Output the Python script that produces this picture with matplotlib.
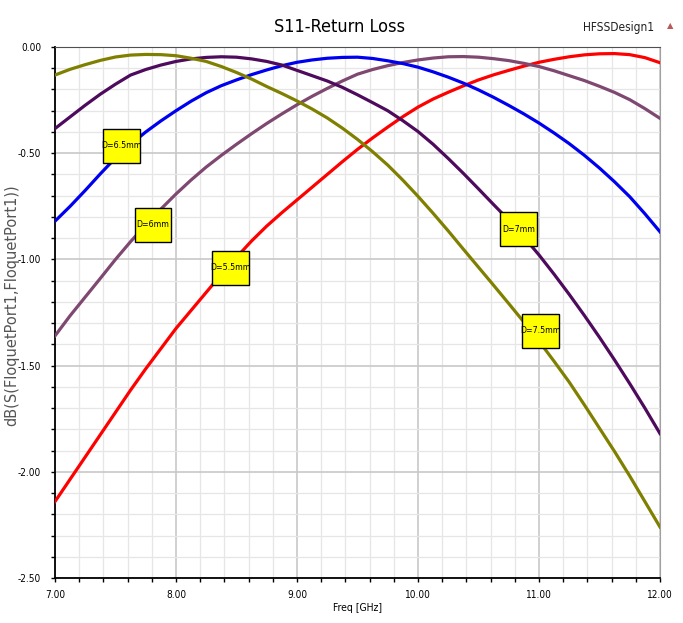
import numpy as np
import matplotlib
matplotlib.use('Agg')
import matplotlib.pyplot as plt
from matplotlib.ticker import MultipleLocator, FormatStrFormatter
from matplotlib import font_manager
from matplotlib.patches import Rectangle

#frequencia em GHz (passo de 0.125)
freq = [7.000, 7.125, 7.250, 7.375, 7.500, 7.625, 7.750, 7.875,
        8.000, 8.125, 8.250, 8.375, 8.500, 8.625, 8.750, 8.875,
        9.000, 9.125, 9.250, 9.375, 9.500, 9.625, 9.750, 9.875,
        10.000, 10.125, 10.250, 10.375, 10.500, 10.625, 10.750, 10.875,
        11.000, 11.125, 11.250, 11.375, 11.500, 11.625, 11.750, 11.875, 12.000]

#valores (dB)
d_5_5 = [-2.14, -2.035, -1.93, -1.825, -1.72, -1.615, -1.515, -1.42,
         -1.325, -1.24, -1.155, -1.07, -0.99, -0.913, -0.843, -0.78,
         -0.72, -0.66, -0.60, -0.54, -0.482, -0.428, -0.377, -0.328,
         -0.283, -0.245, -0.213, -0.183, -0.155, -0.131, -0.11, -0.09,
         -0.072, -0.058, -0.046, -0.037, -0.032, -0.031, -0.036, -0.05, -0.074]
d_6 = [-1.36, -1.265, -1.177, -1.089, -1.00, -0.916, -0.838, -0.763,
       -0.692, -0.626, -0.565, -0.51, -0.458, -0.408, -0.36, -0.315,
       -0.272, -0.232, -0.195, -0.16, -0.128, -0.106, -0.088, -0.073,
       -0.061, -0.052, -0.046, -0.045, -0.048, -0.055, -0.064, -0.077,
       -0.092, -0.112, -0.135, -0.158, -0.185, -0.214, -0.248, -0.29, -0.336]
d_6_5 = [-0.82, -0.75, -0.675, -0.597, -0.522, -0.458, -0.40, -0.348,
         -0.30, -0.255, -0.215, -0.182, -0.155, -0.13, -0.108, -0.088,
         -0.072, -0.061, -0.053, -0.049, -0.048, -0.054, -0.065, -0.078,
         -0.095, -0.117, -0.142, -0.17, -0.202, -0.237, -0.275, -0.315,
         -0.358, -0.405, -0.455, -0.51, -0.57, -0.635, -0.705, -0.785, -0.87]
d_7 = [-0.384, -0.329, -0.274, -0.222, -0.175, -0.132, -0.106, -0.085,
       -0.068, -0.056, -0.049, -0.046, -0.048, -0.056, -0.068, -0.085,
       -0.11, -0.135, -0.16, -0.19, -0.225, -0.262, -0.30, -0.347,
       -0.398, -0.458, -0.525, -0.595, -0.668, -0.742, -0.815, -0.895,
       -0.979, -1.07, -1.165, -1.264, -1.367, -1.474, -1.585, -1.70, -1.82]
d_7_5 = [-0.132, -0.105, -0.083, -0.063, -0.047, -0.038, -0.035, -0.036,
         -0.041, -0.053, -0.068, -0.092, -0.12, -0.151, -0.186, -0.219,
         -0.254, -0.292, -0.334, -0.382, -0.435, -0.493, -0.556, -0.627,
         -0.703, -0.783, -0.866, -0.952, -1.037, -1.122, -1.208, -1.295,
         -1.385, -1.48, -1.578, -1.685, -1.795, -1.905, -2.02, -2.14, -2.26]

series = [d_5_5, d_6, d_6_5, d_7, d_7_5]
cores = ['#FF0000', '#7E4870', '#0000F0', '#4E0A5C', '#808000']

#etiquetas amarelas: texto e posicao (freq, dB)
etiquetas = ['D=5.5mm', 'D=6mm', 'D=6.5mm', 'D=7mm', 'D=7.5mm']
etiq_x = [8.45, 7.81, 7.55, 10.83, 11.01]
etiq_y = [-1.04, -0.836, -0.466, -0.857, -1.337]

#fonte estreita se existir
nomes = {f.name for f in font_manager.fontManager.ttflist}
condensada = any(f.name == 'DejaVu Sans' and f.stretch == 'condensed'
                 for f in font_manager.fontManager.ttflist)
if 'Liberation Sans Narrow' in nomes:
    plt.rcParams['font.family'] = 'Liberation Sans Narrow'
else:
    plt.rcParams['font.family'] = 'DejaVu Sans'
    if condensada:
        plt.rcParams['font.stretch'] = 'condensed'

fig = plt.figure(figsize=(6.83, 6.23), dpi=100)
ax = fig.add_axes([55/683, 1-578/623, 605/683, 531/623])

for valores, cor in zip(series, cores):
    ax.plot(freq, valores, color=cor, linewidth=2.3, zorder=3)

for texto, x, y in zip(etiquetas, etiq_x, etiq_y):
    w, h = 0.305, 0.16
    ax.add_patch(Rectangle((x - w/2, y - h/2), w, h, facecolor='#FFFF00',
                           edgecolor='black', linewidth=1.0, zorder=5))
    ax.text(x, y, texto, ha='center', va='center', fontsize=6.3, zorder=6)

ax.set_xlim(7, 12)
ax.set_ylim(-2.5, 0)
ax.xaxis.set_major_locator(MultipleLocator(1))
ax.xaxis.set_minor_locator(MultipleLocator(0.2))
ax.yaxis.set_major_locator(MultipleLocator(0.5))
ax.yaxis.set_minor_locator(MultipleLocator(0.1))
ax.xaxis.set_major_formatter(FormatStrFormatter('%.2f'))
ax.yaxis.set_major_formatter(FormatStrFormatter('%.2f'))

ax.grid(which='major', color='#C8C8C8', linewidth=1.2)
ax.grid(which='minor', color='#E6E6E6', linewidth=0.9)
ax.set_axisbelow(True)

ax.tick_params(which='both', direction='out', length=3, width=1,
               labelsize=7.2, colors='black')
ax.tick_params(axis='x', pad=6)
ax.tick_params(axis='y', pad=7)

ax.spines['left'].set_linewidth(1.3)
ax.spines['bottom'].set_linewidth(1.3)
ax.spines['top'].set_color('#505050')
ax.spines['right'].set_color('#A0A0A0')

ax.set_xlabel('Freq [GHz]', fontsize=7.5, labelpad=2)

#rotulo do eixo y colocado a mao (fica perto da borda esquerda)
fig.text(12/683, 1-305/623, 'dB(S(FloquetPort1,FloquetPort1))', rotation=90,
         ha='center', va='center', fontsize=10.5, color='#555555',
         family='DejaVu Sans', stretch='normal')

fig.text(340/683, 1-27/623, 'S11-Return Loss', ha='center', va='center', fontsize=13)
fig.text(619/683, 1-27/623, 'HFSSDesign1', ha='center', va='center', fontsize=8.5,
         color='#202020')
fig.text(670/683, 1-26/623, '\u25B2', ha='center', va='center', fontsize=6,
         color='#B85A5A', family='DejaVu Sans', stretch='normal')

fig.savefig('out.png', dpi=100)
